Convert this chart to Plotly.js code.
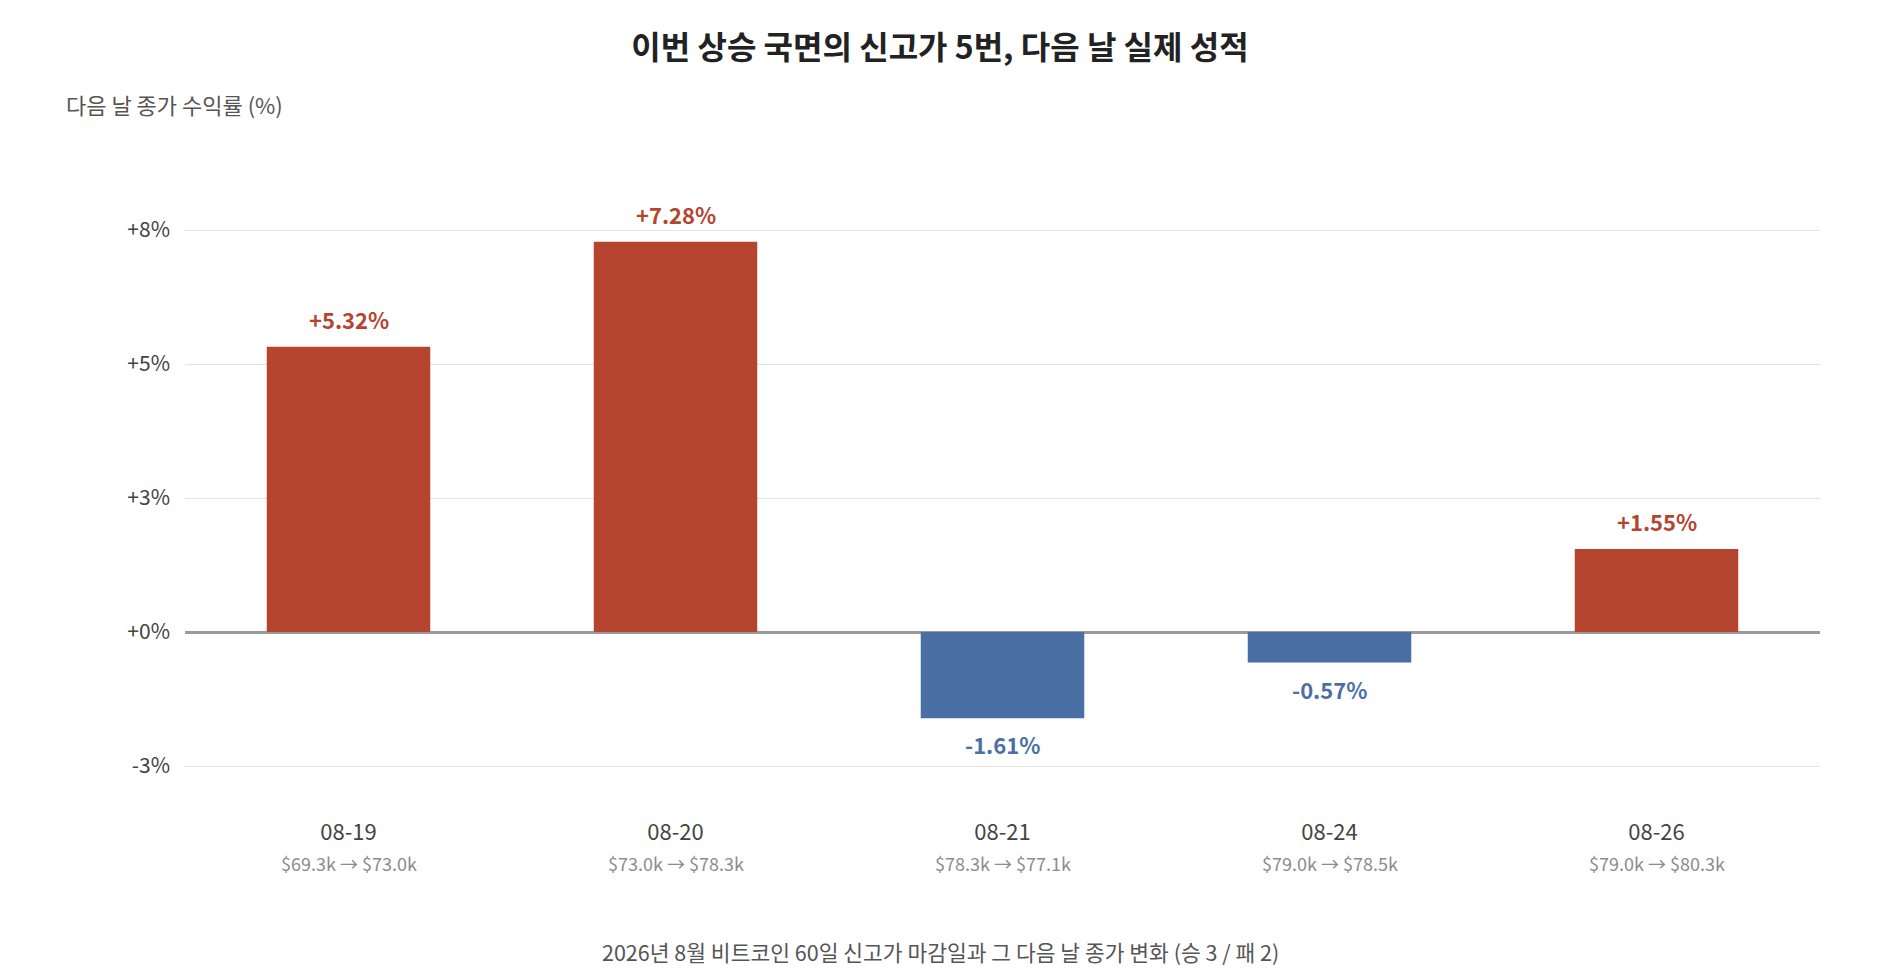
<!DOCTYPE html>
<html>
<head>
<meta charset="utf-8">
<script src="https://cdn.plot.ly/plotly-3.0.1.min.js"></script>
<style>
  html, body { margin: 0; padding: 0; background: #fff; }
  #chart { width: 1880px; height: 980px; }
</style>
</head>
<body>
<div id="chart"></div>
<script>
// 신고가 날짜와 다음 날 수익률
const dates = ['08-19', '08-20', '08-21', '08-24', '08-26'];
const returns = [5.32, 7.28, -1.61, -0.57, 1.55];
const closeFrom = ['$69.3k', '$73.0k', '$78.3k', '$79.0k', '$79.0k'];
const closeTo = ['$73.0k', '$78.3k', '$77.1k', '$78.5k', '$80.3k'];
const yTickVals = [-2.5, 0, 2.5, 5, 7.5];
const yTickText = ['-3%', '+0%', '+3%', '+5%', '+8%'];

const UP = '#b5452f';
const DOWN = '#4a6fa5';
const FONT = '"Noto Sans CJK KR", "Noto Sans", sans-serif';

// 픽셀 -> paper 좌표 (plot 영역: x 185~1820, y 120~800)
const L = 185, R = 60, T = 120, B = 180;
const W = 1880 - L - R, H = 980 - T - B;
const px = x => (x - L) / W;
const py = y => (980 - B - y) / H;

const colors = returns.map(v => v >= 0 ? UP : DOWN);

const bars = {
    type: 'bar',
    x: dates,
    y: returns,
    marker: { color: colors, line: { width: 0 } },
    hoverinfo: 'x+y'
};

const annotations = [];
returns.forEach((v, i) => {
    annotations.push({
        x: dates[i], y: v, xref: 'x', yref: 'y',
        text: (v >= 0 ? '+' : '') + v.toFixed(2) + '%',
        showarrow: false,
        yanchor: v >= 0 ? 'bottom' : 'top',
        yshift: v >= 0 ? 10 : -8,
        font: { family: FONT, size: 22, color: colors[i], weight: 700 }
    });
    annotations.push({
        x: dates[i], y: py(863), xref: 'x', yref: 'paper',
        text: closeFrom[i] + ' → ' + closeTo[i],
        showarrow: false, yanchor: 'middle',
        font: { family: FONT, size: 18, color: '#8c8c8c' }
    });
});

annotations.push({
    x: px(64), y: py(104), xref: 'paper', yref: 'paper',
    xanchor: 'left', yanchor: 'middle', showarrow: false,
    text: '다음 날 종가 수익률 (%)',
    font: { family: FONT, size: 22, color: '#555' }
});
annotations.push({
    x: px(940), y: py(951), xref: 'paper', yref: 'paper',
    xanchor: 'center', yanchor: 'middle', showarrow: false,
    text: '2026년 8월 비트코인 60일 신고가 마감일과 그 다음 날 종가 변화 (승 3 / 패 2)',
    font: { family: FONT, size: 21.5, color: '#555' }
});

const layout = {
    width: 1880,
    height: 980,
    margin: { l: L, r: R, t: T, b: B },
    paper_bgcolor: '#fff',
    plot_bgcolor: '#fff',
    font: { family: FONT, color: '#444' },
    showlegend: false,
    bargap: 0.5,
    title: {
        text: '이번 상승 국면의 신고가 5번, 다음 날 실제 성적',
        x: 0.5, xref: 'container', xanchor: 'center',
        y: 1 - 48 / 980, yanchor: 'middle',
        font: { family: FONT, size: 32, color: '#222', weight: 700 }
    },
    xaxis: {
        type: 'category',
        showgrid: false,
        showline: false,
        ticks: '',
        ticklabelstandoff: 17,
        tickfont: { family: FONT, size: 22, color: '#444' }
    },
    yaxis: {
        range: [-(800 - 632) / 53.6, (632 - 120) / 53.6],
        tickmode: 'array',
        tickvals: yTickVals,
        ticktext: yTickText,
        showgrid: true,
        gridcolor: '#e3e3e3',
        gridwidth: 1.3,
        zeroline: true,
        zerolinecolor: '#9a9a9a',
        zerolinewidth: 2.5,
        showline: false,
        ticks: '',
        ticklabelstandoff: 14,
        tickfont: { family: FONT, size: 21, color: '#444' }
    },
    annotations: annotations
};

Plotly.newPlot('chart', [bars], layout, { displayModeBar: false, responsive: false });
</script>
</body>
</html>
